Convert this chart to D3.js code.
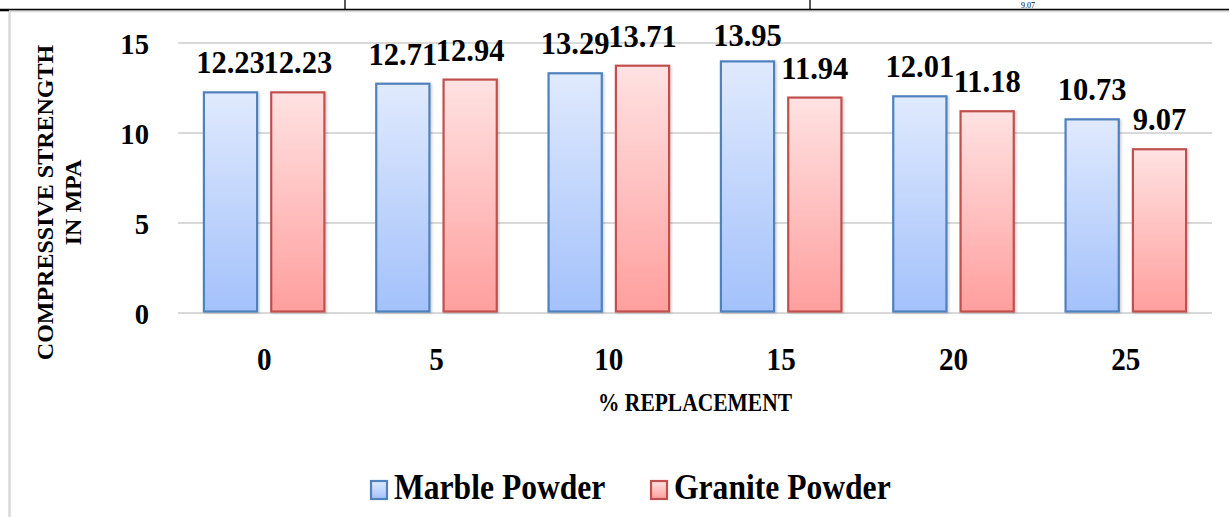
<!DOCTYPE html>
<html>
<head>
<meta charset="utf-8">
<script src="https://cdn.jsdelivr.net/npm/d3@7"></script>
<style>
  html, body { margin: 0; padding: 0; background: #fff; }
  svg { display: block; }
  text { font-family: "Liberation Serif", "Times New Roman", serif; font-weight: bold; fill: #000; }
</style>
</head>
<body>
<svg id="chart" width="1229" height="517"></svg>
<script>
// ---- data ----
const categories = ["0", "5", "10", "15", "20", "25"];
const seriesNames = ["Marble Powder", "Granite Powder"];
const marbleValues = [12.23, 12.71, 13.29, 13.95, 12.01, 10.73];
const graniteValues = [12.23, 12.94, 13.71, 11.94, 11.18, 9.07];
const yTicks = [0, 5, 10, 15];
const yTitleLines = ["COMPRESSIVE STRENGTH", "IN MPA"];
const xTitle = "% REPLACEMENT";
const topCellText = "9.07";

const seriesValues = [marbleValues, graniteValues];
const colors = [
  { stroke: "#4f81bd", top: "#e0eafd", bottom: "#a3c1fb", id: "gBlue" },
  { stroke: "#c0504d", top: "#ffe2e2", bottom: "#ff9f9e", id: "gRed" }
];

const svg = d3.select("#chart");
const W = 1229, H = 517;

// gradients
const defs = svg.append("defs");
colors.forEach(c => {
  const g = defs.append("linearGradient").attr("id", c.id)
    .attr("x1", 0).attr("y1", 0).attr("x2", 0).attr("y2", 1);
  g.append("stop").attr("offset", "0%").attr("stop-color", c.top);
  g.append("stop").attr("offset", "100%").attr("stop-color", c.bottom);
});
const f = defs.append("filter").attr("id", "shadow")
  .attr("x", "-10%").attr("y", "-10%").attr("width", "130%").attr("height", "130%");
f.append("feDropShadow").attr("dx", 1.5).attr("dy", 1).attr("stdDeviation", 1.2)
  .attr("flood-color", "#000").attr("flood-opacity", 0.18);

// document/table fragment at top
svg.append("text").attr("x", 1028).attr("y", 7.5).attr("text-anchor", "middle")
  .style("font-weight", "normal").style("font-size", "8px").text(topCellText);
svg.append("line").attr("x1", 345).attr("x2", 345).attr("y1", 0).attr("y2", 9).attr("stroke", "#000").attr("stroke-width", 1.3);
svg.append("line").attr("x1", 810).attr("x2", 810).attr("y1", 0).attr("y2", 9).attr("stroke", "#000").attr("stroke-width", 1.3);

// chart area border
svg.append("rect").attr("x", 9.5).attr("y", 11).attr("width", W + 20).attr("height", H + 20)
  .attr("fill", "#fff").attr("stroke", "#d9d9d9").attr("stroke-width", 2.5);
svg.append("line").attr("x1", 0).attr("x2", W).attr("y1", 9.5).attr("y2", 9.5)
  .attr("stroke", "#000").attr("stroke-width", 1.6);
svg.append("line").attr("x1", 0).attr("x2", 9).attr("y1", 10.5).attr("y2", 10.5)
  .attr("stroke", "#000").attr("stroke-width", 1.6);

// scales
const plot = { left: 178, right: 1212, top: 42.5, bottom: 312.5 };
const x0 = d3.scaleBand().domain(categories).range([plot.left, plot.right]).padding(0);
const x1 = d3.scaleBand().domain(d3.range(seriesNames.length))
  .range([0, x0.bandwidth()]).paddingInner(0.18).paddingOuter(0.37);
const y = d3.scaleLinear().domain([0, 15]).range([plot.bottom, plot.top]);

// gridlines
const gridAxis = d3.axisLeft(y).tickValues(yTicks).tickSize(-(plot.right - plot.left)).tickFormat("");
const grid = svg.append("g").attr("transform", `translate(${plot.left},0)`).call(gridAxis);
grid.select(".domain").remove();
grid.selectAll("line").attr("stroke", "#d9d9d9").attr("stroke-width", 2);

// y tick labels
const yAxis = d3.axisLeft(y).tickValues(yTicks).tickSize(0).tickPadding(0).tickFormat(d3.format("d"));
const ya = svg.append("g").attr("transform", `translate(149,0)`).call(yAxis);
ya.select(".domain").remove();
ya.selectAll("text").attr("font-family", null).attr("font-size", null)
  .style("font-size", "30.5px").attr("dy", "0.36em").attr("text-anchor", "end")
  .attr("transform", "scale(0.94,1)");

// bars
const groups = svg.append("g").selectAll("g").data(categories).join("g")
  .attr("transform", d => `translate(${x0(d)},0)`);
groups.selectAll("rect").data((d, i) => seriesValues.map((s, k) => ({ k, v: s[i] })))
  .join("rect")
  .attr("x", d => x1(d.k) + 1)
  .attr("width", x1.bandwidth() - 2)
  .attr("y", d => y(d.v))
  .attr("height", d => y(0) - y(d.v) - 1)
  .attr("fill", d => `url(#${colors[d.k].id})`)
  .attr("stroke", d => colors[d.k].stroke)
  .attr("stroke-width", 2.2)
  .attr("filter", "url(#shadow)");

// data labels
groups.selectAll("text.lbl").data((d, i) => seriesValues.map((s, k) => ({ k, v: s[i] })))
  .join("text").attr("class", "lbl")
  .attr("transform", d => `translate(${x1(d.k) + x1.bandwidth() / 2},${Math.max(y(d.v) - 19, 45.5)}) scale(0.94,1)`)
  .attr("text-anchor", "middle")
  .style("font-size", "32.5px")
  .text(d => d3.format(".2f")(d.v));

// x axis labels
const xAxis = d3.axisBottom(x0).tickSize(0).tickPadding(0);
const xa = svg.append("g").attr("transform", `translate(0,370)`).call(xAxis);
xa.select(".domain").remove();
xa.selectAll("text").attr("font-family", null).attr("font-size", null)
  .attr("dy", 0).attr("y", 0).style("font-size", "31px").attr("transform", "scale(0.94,1)");

// axis titles
svg.append("text").attr("transform", "translate(695,411) scale(0.86,1)").attr("text-anchor", "middle")
  .style("font-size", "25px").text(xTitle);
const yt = svg.append("text").attr("transform", "translate(0,202.5) rotate(-90)")
  .attr("text-anchor", "middle").style("font-size", "24px");
yTitleLines.forEach((t, i) => {
  yt.append("tspan").attr("x", 0).attr("y", 53 + i * 28).text(t);
});

// legend
const legendX = [370, 650];
const leg = svg.append("g").selectAll("g").data(seriesNames).join("g")
  .attr("transform", (d, i) => `translate(${legendX[i]},0)`);
leg.append("rect").attr("x", 1).attr("y", 481).attr("width", 16).attr("height", 18)
  .attr("fill", (d, i) => `url(#${colors[i].id})`)
  .attr("stroke", (d, i) => colors[i].stroke).attr("stroke-width", 2.2);
leg.append("text").attr("transform", "translate(24,499) scale(0.89,1)")
  .style("font-size", "35.5px").text(d => d);
</script>
</body>
</html>
